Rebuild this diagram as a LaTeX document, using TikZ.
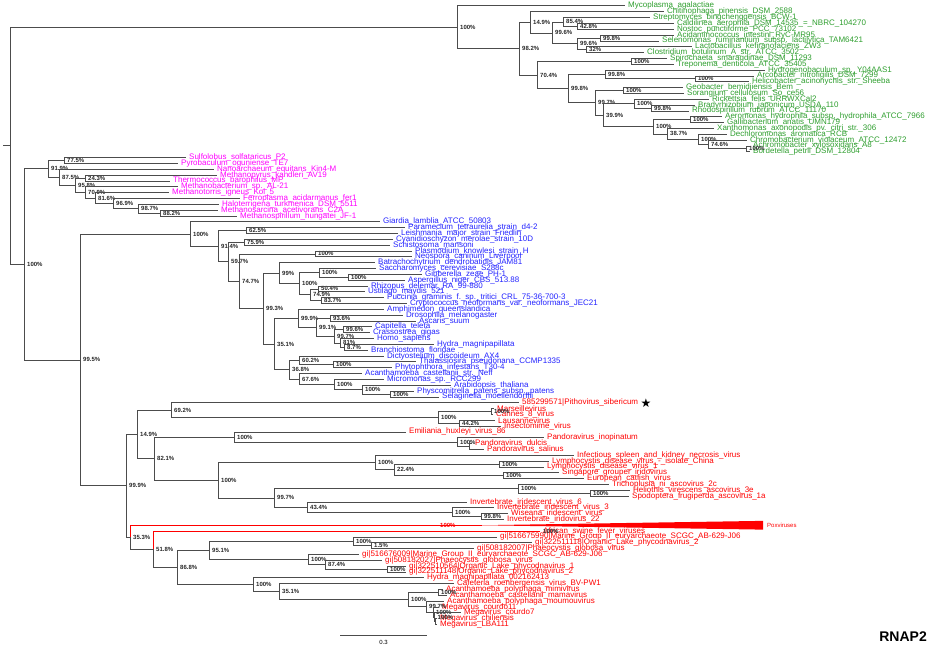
\documentclass[tikz,border=0pt]{standalone}
\usepackage{tikz}
\usepackage{fontspec}
\setmainfont{Liberation Sans}
\newfontfamily\symfont{DejaVu Sans}
\definecolor{gcol}{HTML}{2E9E2E}
\definecolor{mcol}{HTML}{FF00FF}
\definecolor{bcol}{HTML}{2222FF}
\definecolor{rcol}{HTML}{FF0000}
\tikzset{
  branch/.style={draw=black!70, line width=0.7pt},
  tip/.style={anchor=west, inner sep=0pt, xshift=3pt, font=\fontsize{8}{8}\selectfont},
  boot/.style={anchor=west, inner sep=0pt, xshift=3pt, font=\fontsize{6}{6}\selectfont\bfseries, text=black!85},
}

\begin{document}
\begin{tikzpicture}[x=1pt, y=-5.836pt]
  \useasboundingbox (0,0) rectangle (928,111.2);

  % tips
  \foreach \i/\x/\txt in {
    1/625/Mycoplasma\_agalactiae,
    2/664/Chitinophaga\_pinensis\_DSM\_2588,
    3/650/Streptomyces\_bingchenggensis\_BCW-1,
    4/674/Caldilinea\_aerophila\_DSM\_14535\_=\_NBRC\_104270,
    5/674/Nostoc\_punctiforme\_PCC\_73102,
    6/674/Acidaminococcus\_intestini\_RyC-MR95,
    7/659/Selenomonas\_ruminantium\_subsp.\_lactilytica\_TAM6421,
    8/692/Lactobacillus\_kefiranofaciens\_ZW3,
    9/644/Clostridium\_botulinum\_A\_str.\_ATCC\_3502,
    10/667/Spirochaeta\_smaragdinae\_DSM\_11293,
    11/674/Treponema\_denticola\_ATCC\_35405,
    12/765/Hydrogenobaculum\_sp.\_Y04AAS1,
    13/754/Arcobacter\_nitrofigilis\_DSM\_7299,
    14/749/Helicobacter\_acinonychis\_str.\_Sheeba,
    15/683/Geobacter\_bemidjiensis\_Bem,
    16/684/Sorangium\_cellulosum\_So\_ce56,
    17/709/Rickettsia\_felis\_URRWXCal2,
    18/695/Bradyrhizobium\_japonicum\_USDA\_110,
    19/689/Rhodospirillum\_rubrum\_ATCC\_11170,
    20/722/Aeromonas\_hydrophila\_subsp.\_hydrophila\_ATCC\_7966,
    21/724/Gallibacterium\_anatis\_UMN179,
    22/714/Xanthomonas\_axonopodis\_pv.\_citri\_str.\_306,
    23/727/Dechloromonas\_aromatica\_RCB,
    24/747/Chromobacterium\_violaceum\_ATCC\_12472,
    25/750/Achromobacter\_xylosoxidans\_A8,
    26/750/Bordetella\_petrii\_DSM\_12804}
  {
    \coordinate (t\i) at (\x,\i);
    \node[tip, text=gcol] (l\i) at (t\i) {\txt};
  }
  \foreach \i/\x/\txt in {
    27/186/Sulfolobus\_solfataricus\_P2,
    28/178/Pyrobaculum\_oguniense\_TE7,
    29/214/Nanoarchaeum\_equitans\_Kin4-M,
    30/217/Methanopyrus\_kandleri\_AV19,
    31/170/Thermococcus\_barophilus\_MP,
    32/178/Methanobacterium\_sp.\_AL-21,
    33/169/Methanotorris\_igneus\_Kol\_5,
    34/240/Ferroplasma\_acidarmanus\_fer1,
    35/219/Haloterrigena\_turkmenica\_DSM\_5511,
    36/218/Methanosarcina\_acetivorans\_C2A,
    37/237/Methanospirillum\_hungatei\_JF-1}
  {
    \coordinate (t\i) at (\x,\i);
    \node[tip, text=mcol] (l\i) at (t\i) {\txt};
  }
  \foreach \i/\x/\txt in {
    38/380/Giardia\_lamblia\_ATCC\_50803,
    39/405/Paramecium\_tetraurelia\_strain\_d4-2,
    40/398/Leishmania\_major\_strain\_Friedlin,
    41/393/Cyanidioschyzon\_merolae\_strain\_10D,
    42/390/Schistosoma\_mansoni,
    43/412/Plasmodium\_knowlesi\_strain\_H,
    44/412/Neospora\_caninum\_Liverpool,
    45/375/Batrachochytrium\_dendrobatidis\_JAM81,
    46/376/Saccharomyces\_cerevisiae\_S288c,
    47/422/Gibberella\_zeae\_PH-1,
    48/405/Aspergillus\_niger\_CBS\_513.88,
    49/368/Rhizopus\_delemar\_RA\_99-880,
    50/365/Ustilago\_maydis\_521,
    51/384/Puccinia\_graminis\_f.\_sp.\_tritici\_CRL\_75-36-700-3,
    52/407/Cryptococcus\_neoformans\_var.\_neoformans\_JEC21,
    53/384/Amphimedon\_queenslandica,
    54/403/Drosophila\_melanogaster,
    55/416/Ascaris\_suum,
    56/372/Capitella\_teleta,
    57/370/Crassostrea\_gigas,
    58/374/Homo\_sapiens,
    59/434/Hydra\_magnipapillata,
    60/368/Branchiostoma\_floridae,
    61/384/Dictyostelium\_discoideum\_AX4,
    62/416/Thalassiosira\_pseudonana\_CCMP1335,
    63/392/Phytophthora\_infestans\_T30-4,
    64/362/Acanthamoeba\_castellanii\_str.\_Neff,
    65/384/Micromonas\_sp.\_RCC299,
    66/451/Arabidopsis\_thaliana,
    67/414/Physcomitrella\_patens\_subsp.\_patens,
    68/439/Selaginella\_moellendorffii}
  {
    \coordinate (t\i) at (\x,\i);
    \node[tip, text=bcol] (l\i) at (t\i) {\txt};
  }
  \foreach \i/\x/\txt in {
    69/519/585299571|Pithovirus\_sibericum,
    70/494/Marseillevirus,
    71/493/Cannes\_8\_virus,
    72/495/Lausannevirus,
    73/501/Insectomime\_virus,
    74/406/Emiliania\_huxleyi\_virus\_86,
    75/544/Pandoravirus\_inopinatum,
    76/472/Pandoravirus\_dulcis,
    77/484/Pandoravirus\_salinus,
    78/574/Infectious\_spleen\_and\_kidney\_necrosis\_virus,
    79/549/Lymphocystis\_disease\_virus\_-\_isolate\_China,
    80/544/Lymphocystis\_disease\_virus\_1,
    81/559/Singapore\_grouper\_iridovirus,
    82/584/European\_catfish\_virus,
    83/609/Trichoplusia\_ni\_ascovirus\_2c,
    84/630/Heliothis\_virescens\_ascovirus\_3e,
    85/629/Spodoptera\_frugiperda\_ascovirus\_1a,
    86/467/Invertebrate\_iridescent\_virus\_6,
    87/494/Invertebrate\_iridescent\_virus\_3,
    88/508/Wiseana\_iridescent\_virus,
    89/504/Invertebrate\_iridovirus\_22,
    91/540/African\_swine\_fever\_viruses,
    92/497/gi|516675990|Marine\_Group\_II\_euryarchaeote\_SCGC\_AB-629-J06,
    93/532/gi|322511118|Organic\_Lake\_phycodnavirus\_2,
    94/474/gi|508182007|Phaeocystis\_globosa\_virus,
    95/359/gi|516676009|Marine\_Group\_II\_euryarchaeote\_SCGC\_AB-629-J06,
    96/382/gi|508182027|Phaeocystis\_globosa\_virus,
    97/406/gi|322510564|Organic\_Lake\_phycodnavirus\_1,
    98/406/gi|322511148|Organic\_Lake\_phycodnavirus\_2,
    99/424/Hydra\_magnipapillata\_002162413,
    100/454/Cafeteria\_roenbergensis\_virus\_BV-PW1,
    101/443/Acanthamoeba\_polyphaga\_mimivirus,
    102/447/Acanthamoeba\_castellanii\_mamavirus,
    103/444/Acanthamoeba\_polyphaga\_moumouvirus,
    104/439/Megavirus\_courdo11,
    105/461/Megavirus\_courdo7,
    106/437/Megavirus\_chiliensis,
    107/437/Megavirus\_LBA111}
  {
    \coordinate (t\i) at (\x,\i);
    \node[tip, text=rcol] (l\i) at (t\i) {\txt};
  }

  % inner nodes with support values
  \coordinate (stub) at (3,24.98);
  \coordinate (root) at (10,24.98);
  \coordinate (vDS) at (469,76.5);
  \coordinate (vG3) at (435.5,106.5);
  \foreach \n/\x/\y/\lab in {
    g100/457/4.66/100\%, g982/519/8.33/98.2\%, g149/530/3.81/14.9\%,
    g96a/552/5.63/99.6\%, g85/563/3.75/85.4\%, g42/577/4.5/42.8\%,
    g96b/577/7.5/99.6\%, g98/600/6.5/99.8\%, g32/586/8.5/32\%,
    g704/537/12.84/70.4\%, g7/631/10.5/100\%, g998a/568/15.19/99.8\%,
    g998b/605/12.75/99.8\%, gAH/695/13.5/100\%, g997/595/17.62/99.7\%,
    gGS/623/15.5/100\%, g399/603/19.74/39.9\%, gRk/634/17.75/100\%,
    gBR/651/18.5/99.8\%, gXa/653/21.72/100\%, gAG/690/20.5/100\%,
    g387/667/22.94/38.7\%, gDe/698/23.88/100\%, g746/708/24.75/74.6\%,
    gAB/746/25.5/100\%,
    r100/24/45.3/100\%, a919/48/28.93/91.9\%, a775/64/27.5/77.5\%,
    a875/59/30.37/87.5\%, a243/85/30.5/24.3\%, a958/75/31.73/95.8\%,
    a709/85/32.97/70.9\%, a816/95/33.94/81.6\%, a969/113/34.88/96.9\%,
    a987/138/35.75/98.7\%, a882/160/36.5/88.2\%,
    e995/80/61.67/99.5\%, k100/190/40.09/100\%, k914/218/42.17/91.4\%,
    k625/246/39.5/62.5\%, k597/228/44.84/59.7\%, k759/244/41.5/75.9\%,
    k747/239/48.19/74.7\%, kPN/315/43.5/100\%, k993/263/52.87/99.3\%,
    k99/279/46.81/99\%, k7/299/48.63/100\%, k8/319/46.75/100\%,
    kGA/348/47.5/100\%, k749/310/50.5/74.9\%, k504/318/49.5/50.4\%,
    k837/321/51.5/83.7\%, k351/274/58.94/35.1\%, k999/298/54.53/99.9\%,
    k991/316/56.06/99.1\%, k936/330/54.5/93.6\%, k997/334/57.63/99.7\%,
    k996/343/56.5/99.6\%, k81/340/58.75/81\%, k87/344/59.5/8.7\%,
    k368/289/63.34/36.8\%, k602/299/61.75/60.2\%, kTP/333/62.5/100\%,
    k676/299/64.94/67.6\%, kMi/334/65.88/100\%, kAr/362/66.75/100\%,
    kPS/390/67.5/100\%,
    v999/126/83.24/99.9\%, v149/137/74.42/14.9\%, v692/171/70.25/69.2\%,
    vMa/438/71.5/100\%, vMC/491/70.5/100\%, v442/459/72.5/44.2\%,
    v821/154/78.58/82.1\%, vEm/234/74.88/100\%, vPa/457/75.75/100\%,
    vIr/218/82.28/100\%, vIS/375/79.25/100\%, v224/394/80.5/22.4\%,
    vLC/499/79.5/100\%, vSE/503/81.5/100\%, v997/274/85.31/99.7\%,
    vAs/518/83.75/100\%, vHS/590/84.5/100\%, v434/307/86.88/43.4\%,
    vI3/452/87.75/100\%, v998/481/88.5/99.8\%, v353/130/92.06/35.3\%,
    v518/153/94.12/51.8\%, v868/177/97.25/86.8\%, v951/209/94.31/95.1\%,
    vM1/353/92.75/100\%, v15/371/93.5/1.5\%, vM2/308/95.88/100\%,
    v874/325/96.75/87.4\%, vOL/387/97.5/100\%, vHy/253/100.18/100\%,
    v351/279/101.36/35.1\%, vMi/408/102.72/100\%, vMM/438/101.5/100\%,
    v9x/426/103.94/99.7\%, vG1/433/104.88/100\%, vG2/434.5/105.75/100\%}
  {
    \coordinate (\n) at (\x,\y);
    \node[boot] (\n-b) at (\n) {\lab};
  }

  % branches
  \draw[branch] (stub) -- (root);
  \foreach \p/\c in {
    root/g100, root/r100,
    g100/t1, g100/g982, g982/g149, g982/g704, g149/t2, g149/g96a,
    g96a/g85, g96a/g96b, g85/t3, g85/g42, g42/t4, g42/t5,
    g96b/g98, g96b/g32, g98/t6, g98/t7, g32/t8, g32/t9,
    g704/g7, g704/g998a, g7/t10, g7/t11, g998a/g998b, g998a/g997,
    g998b/t12, g998b/gAH, gAH/t13, gAH/t14, g997/gGS, g997/g399,
    gGS/t15, gGS/t16, g399/gRk, g399/gXa, gRk/t17, gRk/gBR,
    gBR/t18, gBR/t19, gXa/gAG, gXa/g387, gAG/t20, gAG/t21,
    g387/t22, g387/gDe, gDe/t23, gDe/g746, g746/t24, g746/gAB,
    gAB/t25, gAB/t26,
    r100/a919, r100/e995, a919/a775, a919/a875, a775/t27, a775/t28,
    a875/t29, a875/a958, a958/a243, a958/a709, a243/t30, a243/t31,
    a709/t32, a709/a816, a816/t33, a816/a969, a969/t34, a969/a987,
    a987/t35, a987/a882, a882/t36, a882/t37,
    e995/k100, e995/v999, k100/t38, k100/k914, k914/k625, k914/k597,
    k625/t39, k625/t40, k597/k759, k597/k747, k759/t41, k759/t42,
    k747/kPN, k747/k993, kPN/t43, kPN/t44, k993/k99, k993/k351,
    k99/t45, k99/k7, k7/k8, k7/k749, k8/t46, k8/kGA, kGA/t47, kGA/t48,
    k749/k504, k749/k837, k504/t49, k504/t50, k837/t51, k837/t52,
    k351/k999, k351/k368, k999/t53, k999/k991, k991/k936, k991/k997,
    k936/t54, k936/t55, k997/k996, k997/k81, k996/t56, k996/t57,
    k81/t58, k81/k87, k87/t59, k87/t60, k368/k602, k368/k676,
    k602/t61, k602/kTP, kTP/t62, kTP/t63, k676/t64, k676/kMi,
    kMi/t65, kMi/kAr, kAr/t66, kAr/kPS, kPS/t67, kPS/t68,
    v999/v149, v999/v353, v149/v692, v149/v821, v692/t69, v692/vMa,
    vMa/vMC, vMa/v442, vMC/t70, vMC/t71, v442/t72, v442/t73,
    v821/vEm, v821/vIr, vEm/t74, vEm/vPa, vPa/t75, vPa/vDS,
    vDS/t76, vDS/t77, vIr/vIS, vIr/v997, vIS/t78, vIS/v224,
    v224/vLC, v224/vSE, vLC/t79, vLC/t80, vSE/t81, vSE/t82,
    v997/vAs, v997/v434, vAs/t83, vAs/vHS, vHS/t84, vHS/t85,
    v434/t86, v434/vI3, vI3/t87, vI3/v998, v998/t88, v998/t89,
    v353/v518, v518/v868, v868/v951, v868/vHy, v951/vM1, v951/vM2,
    vM1/t92, vM1/v15, v15/t93, v15/t94, vM2/t95, vM2/v874,
    v874/t96, v874/vOL, vOL/t97, vOL/t98, vHy/t99, vHy/v351,
    v351/t100, v351/vMi, vMi/vMM, vMi/v9x, vMM/t101, vMM/t102,
    v9x/t103, v9x/vG1, vG1/t104, vG1/vG2, vG2/t105, vG2/vG3,
    vG3/t106, vG3/t107}
    \draw[branch] (\p) |- (\c);

  % collapsed clades
  \coordinate (pox) at (482,90);
  \draw[branch, draw=rcol] (v353) |- (pox);
  \fill[rcol] (pox) -- (763,89.25) -- (763,90.75) -- cycle;
  \node[tip, font=\fontsize{6}{6}\selectfont, text=rcol, xshift=0pt] (l90) at (764,90) {Poxviruses};
  \node[boot, text=rcol] (pox-b) at (437,90) {100\%};
  \draw[branch, draw=rcol] (v518) |- (t91);
  \node[boot] (asfv-b) at (540,91) {100\%};

  \node[font=\symfont\fontsize{12}{12}\selectfont, inner sep=0pt] (star) at (646,69) {★};

  % scale bar and title
  \coordinate (s0) at (340,108.95);
  \coordinate (s1) at (427,108.95);
  \draw[branch] (s0) -- (s1);
  \node[font=\fontsize{6}{6}\selectfont, inner sep=0pt] (s-l) at (383.5,110.15) {0.3};
  \node[anchor=east, inner sep=0pt, font=\fontsize{14}{14}\selectfont\bfseries] (title) at (927,109.1) {RNAP2};
\end{tikzpicture}
\end{document}
